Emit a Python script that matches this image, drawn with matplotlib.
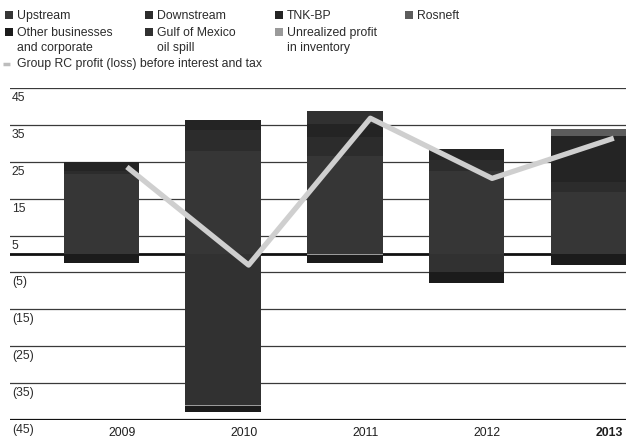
import matplotlib.pyplot as plt
from matplotlib.patches import Rectangle
from matplotlib.lines import Line2D
import numpy as np

plt.rcParams['font.family'] = ['Liberation Sans', 'DejaVu Sans']

# $ billion, by business
years = ['2009', '2010', '2011', '2012', '2013']
upstream = [21.8, 28.0, 26.5, 22.4, 16.7]
downstream = [0.7, 5.6, 5.3, 3.0, 2.9]
tnk_bp = [2.5, 2.6, 3.5, 3.0, 12.5]
rosneft = [0.0, 0.0, 0.0, 0.0, 1.9]
other_corp = [-2.3, -1.5, -2.2, -2.8, -3.0]
gulf_spill = [0.0, -40.9, 3.6, -5.0, 0.0]
unrealized = [-0.1, -0.3, -0.2, 0.0, 0.0]
group_rc = [23.6, -3.0, 36.8, 20.5, 31.4]

y_ticks = [45, 35, 25, 15, 5, -5, -15, -25, -35, -45]
y_labels = ['45', '35', '25', '15', '5', '(5)', '(15)', '(25)', '(35)', '(45)']

colors = {
    'Upstream': '#363636',
    'Downstream': '#2c2c2c',
    'TNK-BP': '#242424',
    'Rosneft': '#5c5c5c',
    'Other businesses\nand corporate': '#1b1b1b',
    'Gulf of Mexico\noil spill': '#313131',
    'Unrealized profit\nin inventory': '#9a9a9a',
}
series = [
    ('Upstream', upstream),
    ('Downstream', downstream),
    ('TNK-BP', tnk_bp),
    ('Rosneft', rosneft),
    ('Other businesses\nand corporate', other_corp),
    ('Gulf of Mexico\noil spill', gulf_spill),
    ('Unrealized profit\nin inventory', unrealized),
]
# order of stacking below zero (first sits against the zero line)
neg_order = [5, 6, 4]

W, H = 626, 441
fig = plt.figure(figsize=(W / 100, H / 100), dpi=100)
fig.patch.set_facecolor('white')


def fx(px):
    return px / W


def fy(py):
    return 1 - py / H


ax = fig.add_axes([fx(10), fy(420), fx(616), (420 - 88) / H])
ax.set_xlim(-0.75, 4.31)
ax.set_ylim(-45, 45)
ax.axis('off')

# horizontal rules
for v in y_ticks:
    ax.axhline(v, color='#3a3a3a', lw=0.9, zorder=0)
ax.axhline(0, color='#111111', lw=2.0, zorder=0)
ax.axhline(-45, color='#111111', lw=1.6, zorder=0)

x = np.arange(len(years))
pos_base = np.zeros(len(years))
for name, vals in series:
    pos = np.clip(np.array(vals), 0, None)
    ax.bar(x, pos, 0.62, bottom=pos_base, color=colors[name], zorder=2)
    pos_base += pos

neg_base = np.zeros(len(years))
for k in neg_order:
    name, vals = series[k]
    neg = np.clip(np.array(vals), None, 0)
    ax.bar(x, neg, 0.62, bottom=neg_base, color=colors[name], zorder=2)
    neg_base += neg

ax.plot(x + 0.21, group_rc, color='#cfcfcf', lw=3.8, zorder=3,
        solid_capstyle='butt')

for v, lab in zip(y_ticks, y_labels):
    ax.text(-0.735, v - 2.7, lab, fontsize=8.8, color='#2b2b2b',
            ha='left', va='center', zorder=4)

for i, yr in enumerate(years):
    ax.text(i + 0.17, -48.6, yr, fontsize=8.8, color='#1e1e1e',
            ha='center', va='center', clip_on=False,
            fontweight='bold' if yr == '2013' else 'normal')

# legend
legend_pos = [(5, 15), (145, 15), (275, 15), (405, 15),
              (5, 32), (145, 32), (275, 32)]
for (name, vals), (lx, ly) in zip(series, legend_pos):
    fig.patches.append(Rectangle((fx(lx), fy(ly + 4)), fx(8), 8 / H,
                                 transform=fig.transFigure,
                                 facecolor=colors[name], edgecolor='none'))
    fig.text(fx(lx + 12), fy(ly - 5), name, fontsize=8.8, color='#2b2b2b',
             ha='left', va='top', linespacing=1.3)

fig.lines.append(Line2D([fx(3), fx(13)], [fy(64), fy(64)],
                        transform=fig.transFigure, color='#bdbdbd', lw=2.5,
                        ls=(0, (2, 1))))
fig.text(fx(17), fy(64), 'Group RC profit (loss) before interest and tax',
         fontsize=8.8, color='#2b2b2b', ha='left', va='center')

fig.savefig('out.png', dpi=100)
